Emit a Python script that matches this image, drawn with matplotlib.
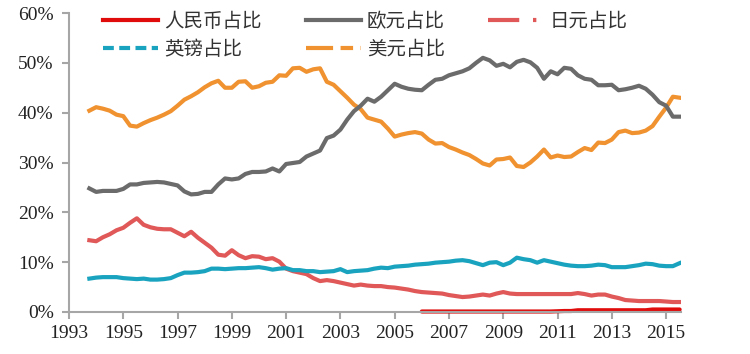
import numpy as np
import matplotlib
matplotlib.use("Agg")
from matplotlib import pyplot as plt
from matplotlib.lines import Line2D

# quarterly observations, 1993Q4 .. 2015Q3 (share of reserves, %)
quarters = np.arange(88) * 0.25 + 1993.75

usd = [40.4, 41.1, 40.8, 40.4, 39.6, 39.3, 37.4, 37.2, 37.9, 38.5,
       39.0, 39.6, 40.3, 41.4, 42.6, 43.3, 44.1, 45.1, 45.9, 46.4,
       45.0, 45.0, 46.2, 46.3, 45.0, 45.3, 46.0, 46.2, 47.5, 47.4,
       48.9, 49.0, 48.2, 48.7, 48.9, 46.2, 45.6, 44.3, 43.0, 41.6,
       40.7, 39.0, 38.6, 38.2, 36.8, 35.2, 35.6, 35.9, 36.1, 35.8,
       34.6, 33.8, 33.9, 33.1, 32.6, 32.0, 31.5, 30.7, 29.8, 29.4,
       30.6, 30.7, 31.0, 29.3, 29.1, 30.0, 31.2, 32.6, 31.0, 31.4,
       31.1, 31.2, 32.1, 32.9, 32.5, 34.0, 33.9, 34.6, 36.1, 36.4,
       35.9, 36.0, 36.4, 37.3, 39.2, 41.0, 43.2, 43.0]

eur = [24.8, 24.1, 24.3, 24.3, 24.3, 24.7, 25.6, 25.6, 25.9, 26.0,
       26.1, 26.0, 25.7, 25.4, 24.2, 23.6, 23.7, 24.1, 24.1, 25.6,
       26.8, 26.6, 26.8, 27.7, 28.1, 28.1, 28.2, 28.8, 28.2, 29.7,
       29.9, 30.1, 31.2, 31.8, 32.4, 34.9, 35.4, 36.6, 38.6, 40.3,
       41.4, 42.8, 42.2, 43.2, 44.5, 45.8, 45.2, 44.8, 44.6, 44.5,
       45.6, 46.6, 46.8, 47.5, 47.9, 48.3, 48.9, 50.0, 51.0, 50.5,
       49.4, 49.8, 49.1, 50.2, 50.6, 50.1, 49.0, 46.8, 48.3, 47.7,
       49.0, 48.8, 47.5, 46.8, 46.6, 45.5, 45.5, 45.6, 44.5, 44.7,
       45.0, 45.4, 44.8, 43.6, 42.1, 41.4, 39.2, 39.2]

jpy = [14.4, 14.2, 15.0, 15.6, 16.4, 16.9, 17.9, 18.8, 17.5, 17.0,
       16.7, 16.6, 16.6, 15.9, 15.2, 16.1, 14.9, 13.9, 12.9, 11.5,
       11.3, 12.4, 11.4, 10.8, 11.2, 11.1, 10.6, 10.8, 10.1, 8.7,
       8.2, 7.9, 7.6, 6.8, 6.2, 6.4, 6.2, 5.9, 5.6, 5.3,
       5.5, 5.3, 5.2, 5.2, 5.0, 4.9, 4.7, 4.5, 4.2, 4.0,
       3.9, 3.8, 3.7, 3.4, 3.2, 3.0, 3.1, 3.3, 3.5, 3.3,
       3.7, 4.0, 3.7, 3.6, 3.6, 3.6, 3.6, 3.6, 3.6, 3.6,
       3.6, 3.6, 3.8, 3.6, 3.3, 3.5, 3.5, 3.1, 2.8, 2.4,
       2.3, 2.2, 2.2, 2.2, 2.2, 2.1, 2.0, 2.0]

gbp = [6.7, 6.9, 7.0, 7.0, 7.0, 6.8, 6.7, 6.6, 6.7, 6.5,
       6.5, 6.6, 6.8, 7.4, 7.9, 7.9, 8.0, 8.2, 8.7, 8.7,
       8.6, 8.7, 8.8, 8.8, 8.9, 9.0, 8.8, 8.5, 8.7, 8.8,
       8.4, 8.4, 8.2, 8.2, 8.0, 8.1, 8.2, 8.6, 8.0, 8.2,
       8.3, 8.4, 8.7, 8.9, 8.8, 9.1, 9.2, 9.3, 9.5, 9.6,
       9.7, 9.9, 10.0, 10.1, 10.3, 10.4, 10.2, 9.8, 9.4, 9.9,
       10.0, 9.4, 9.9, 10.9, 10.6, 10.4, 9.9, 10.4, 10.1, 9.8,
       9.5, 9.3, 9.2, 9.2, 9.3, 9.5, 9.4, 9.0, 9.0, 9.0,
       9.2, 9.4, 9.7, 9.6, 9.3, 9.2, 9.2, 9.8]

# renminbi series only from 2006Q1
rmb_start = 49
rmb = [0.1] * 20 + [0.15, 0.2, 0.2] + [0.35] * 11 + [0.5] * 5

c_rmb = "#E00C0C"
c_eur = "#6B6B6B"
c_jpy = "#E05858"
c_gbp = "#1AA3BF"
c_usd = "#F0922F"
axis_c = "#A6A6A6"

fig = plt.figure(figsize=(7.5, 3.54), dpi=100)
ax = fig.add_axes([69 / 750, 1 - 312 / 354, (681 - 69) / 750, (312 - 13) / 354])

lw = 3.0
ax.plot(quarters, usd, color=c_usd, lw=lw)
ax.plot(quarters, eur, color=c_eur, lw=lw)
ax.plot(quarters, jpy, color=c_jpy, lw=lw)
ax.plot(quarters, gbp, color=c_gbp, lw=lw)
ax.plot(quarters[rmb_start:], rmb, color=c_rmb, lw=lw, clip_on=False,
        solid_capstyle="round")

ax.set_xlim(1993, 2015.55)
ax.set_ylim(0, 60)
ax.set_xticks(np.arange(1993, 2016, 2))
ax.set_yticks(np.arange(0, 61, 10))
ax.set_yticklabels([f"{v}%" for v in range(0, 61, 10)])

for s in ["top", "right"]:
    ax.spines[s].set_visible(False)
for s in ["left", "bottom"]:
    ax.spines[s].set_color(axis_c)
    ax.spines[s].set_linewidth(1.5)
ax.tick_params(colors=axis_c, width=1.5, length=5, direction="out")
for lab in ax.get_xticklabels() + ax.get_yticklabels():
    lab.set_family("Liberation Serif")
    lab.set_fontsize(14)
    lab.set_color("#222222")
ax.tick_params(axis="x", pad=4)
ax.tick_params(axis="y", pad=6)

handles = [
    Line2D([], [], color=c_rmb, lw=lw),
    Line2D([], [], color=c_gbp, lw=lw, dashes=(2.6, 1.3)),
    Line2D([], [], color=c_eur, lw=lw),
    Line2D([], [], color=c_usd, lw=lw, dashes=(6.5, 1.8, 3, 1.8)),
    Line2D([], [], color=c_jpy, lw=lw, dashes=(7.5, 3.3, 0.8, 3)),
    Line2D([], [], color="none", lw=lw),
]
labels = ["人民币占比", "英镑占比", "欧元占比", "美元占比", "日元占比", ""]
leg = fig.legend(handles, labels, loc="upper left",
                 bbox_to_anchor=(103 / 750, 1 - 11 / 354), ncol=3,
                 frameon=False, handlelength=2.85, handletextpad=0.3,
                 columnspacing=2.25, labelspacing=0.35, borderpad=0,
                 borderaxespad=0,
                 prop={"family": ["Noto Sans CJK SC", "DejaVu Sans"],
                       "size": 14, "weight": "light"})
for t in leg.get_texts():
    t.set_color("#333333")

fig.savefig("out.png", dpi=100)
